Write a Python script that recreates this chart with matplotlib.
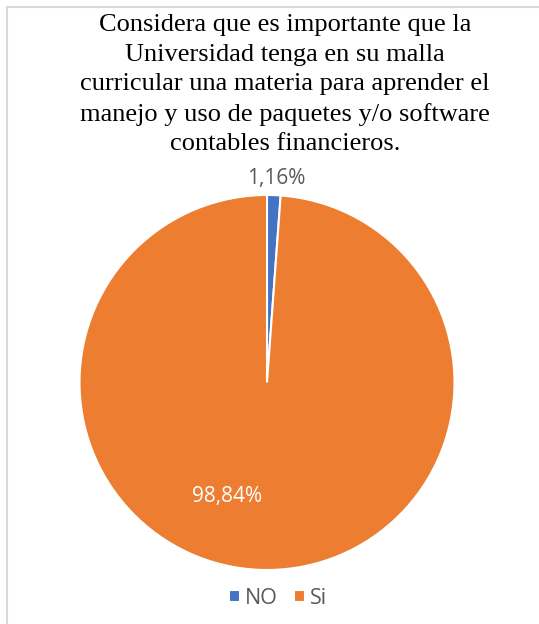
import matplotlib
matplotlib.use("Agg")
import matplotlib.pyplot as plt
from matplotlib.patches import Rectangle

categories = ["NO", "Si"]
values = [1.16, 98.84]
labels = ["1,16%", "98,84%"]
colors = ["#4472C4", "#ED7D31"]
title = ("Considera que es importante que la\nUniversidad tenga en su malla\n"
         "curricular una materia para aprender el\nmanejo y uso de paquetes y/o software\n"
         "contables financieros.")

W, H = 539, 624
fig = plt.figure(figsize=(W / 100, H / 100), dpi=100)

# light border (only left/top visible in the reference crop)
fig.patches.append(Rectangle((6.5 / W, -0.1), 1.2, 1.1 - 6.5 / H, transform=fig.transFigure,
                             fill=False, edgecolor="#d9d9d9", linewidth=1.5))

cx, cy, r = 267, 382.5, 187.5
ax = fig.add_axes([(cx - r) / W, 1 - (cy + r) / H, 2 * r / W, 2 * r / H])
wedges, _ = ax.pie(values, colors=colors, startangle=90, counterclock=False,
                   wedgeprops=dict(edgecolor="white", linewidth=1.5))
ax.set_xlim(-1, 1)
ax.set_ylim(-1, 1)
ax.set_aspect("auto")

sans = ["Open Sans", "DejaVu Sans"]
ax.text(0.05, 1.09, labels[0], ha="center", va="center", fontsize=15,
        color="#595959", family=sans)
ax.text(-0.215, -0.61, labels[1], ha="center", va="center", fontsize=15,
        color="white", family=sans)

fig.text(285 / W, 1 - 150 / H, title, ha="center", va="baseline", fontsize=19,
         family=["Liberation Serif", "DejaVu Serif"], linespacing=1.43, color="black")

leg = fig.legend(wedges, categories, loc="center", bbox_to_anchor=(278 / W, 1 - 598 / H),
                 ncol=2, frameon=False, handlelength=0.5, handleheight=0.5,
                 handletextpad=0.25, columnspacing=0.75,
                 prop=dict(family=sans, size=15.5))
for t in leg.get_texts():
    t.set_color("#595959")

fig.savefig("out.png", dpi=100)
